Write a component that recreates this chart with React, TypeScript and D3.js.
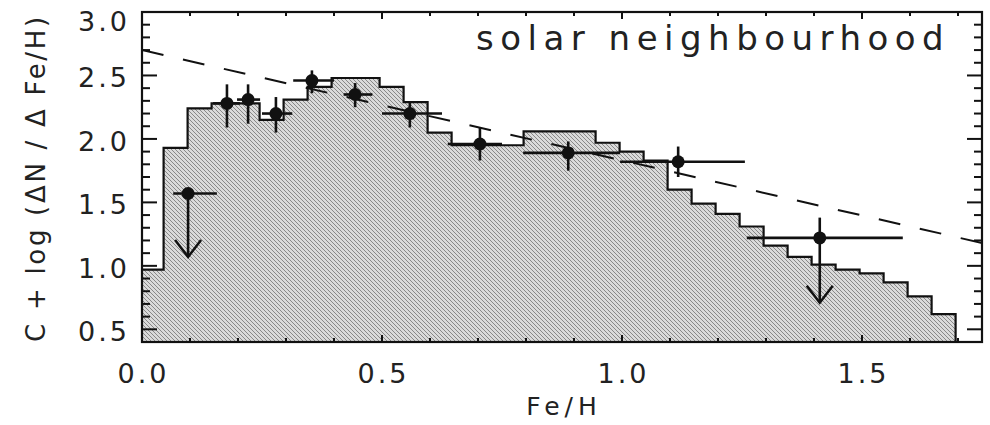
import React, { useEffect, useRef } from "react";
import * as d3 from "d3";

// histogram (model) bins
const binEdges = [
  0, 0.045, 0.095, 0.145, 0.195, 0.245, 0.295, 0.345, 0.395, 0.445, 0.495, 0.545,
  0.595, 0.645, 0.695, 0.745, 0.795, 0.845, 0.895, 0.945, 0.995, 1.045, 1.095,
  1.145, 1.195, 1.245, 1.295, 1.345, 1.395, 1.445, 1.495, 1.545, 1.595, 1.645,
  1.695, 1.75,
];
const binValues = [
  0.97, 1.93, 2.24, 2.28, 2.28, 2.15, 2.31, 2.41, 2.48, 2.48, 2.41, 2.29, 2.05,
  1.95, 1.95, 1.95, 2.06, 2.06, 2.06, 1.97, 1.9, 1.83, 1.6, 1.49, 1.41, 1.31,
  1.16, 1.07, 1.01, 0.97, 0.94, 0.87, 0.76, 0.62, 0.3,
];

// observed points with error bars
const obsX = [0.096, 0.177, 0.221, 0.279, 0.354, 0.444, 0.558, 0.704, 0.888, 1.117, 1.412];
const obsY = [1.57, 2.28, 2.31, 2.2, 2.46, 2.35, 2.2, 1.96, 1.89, 1.82, 1.22];
const obsXLo = [0.065, 0.148, 0.198, 0.25, 0.315, 0.42, 0.5, 0.637, 0.794, 0.996, 1.26];
const obsXHi = [0.156, 0.204, 0.246, 0.313, 0.4, 0.48, 0.625, 0.75, 0.996, 1.256, 1.585];
const obsYLo = [1.07, 2.09, 2.12, 2.05, 2.36, 2.25, 2.09, 1.83, 1.75, 1.7, 0.71];
const obsYHi = [1.6, 2.43, 2.43, 2.33, 2.54, 2.44, 2.29, 2.09, 1.98, 1.94, 1.38];
const upperLimit = [true, false, false, false, false, false, false, false, false, false, true];

// dashed reference line
const dashX = [0, 1.75];
const dashY = [2.7, 1.18];

const xTickLabels = ["0.0", "0.5", "1.0", "1.5"];
const yTickLabels = ["0.5", "1.0", "1.5", "2.0", "2.5", "3.0"];

const App: React.FC = () => {
  const svgRef = useRef<SVGSVGElement>(null);

  useEffect(() => {
    const svg = d3.select(svgRef.current);
    svg.selectAll("*").remove();

    const width = 990;
    const height = 425;
    const margin = { top: 12, right: 8, bottom: 83, left: 142 };
    const iw = width - margin.left - margin.right;
    const ih = height - margin.top - margin.bottom;

    const x = d3.scaleLinear().domain([0, 1.75]).range([0, iw]);
    const y = d3.scaleLinear().domain([0.4, 3.0]).range([ih, 0]);

    const defs = svg.append("defs");
    const pat = defs
      .append("pattern")
      .attr("id", "hatch")
      .attr("patternUnits", "userSpaceOnUse")
      .attr("width", 4)
      .attr("height", 4);
    pat.append("rect").attr("width", 4).attr("height", 4).attr("fill", "#dadada");
    pat
      .append("path")
      .attr("d", "M-1,3 l2,2 M0,0 l4,4 M3,-1 l2,2")
      .attr("stroke", "#888")
      .attr("stroke-width", 1);
    defs
      .append("clipPath")
      .attr("id", "plotClip")
      .append("rect")
      .attr("width", iw)
      .attr("height", ih);

    const g = svg.append("g").attr("transform", `translate(${margin.left},${margin.top})`);

    // histogram
    const steps: [number, number][] = [];
    binValues.forEach((v, i) => {
      steps.push([binEdges[i], v]);
      steps.push([binEdges[i + 1], v]);
    });
    const plot = g.append("g").attr("clip-path", "url(#plotClip)");
    plot
      .append("path")
      .datum(steps)
      .attr("fill", "url(#hatch)")
      .attr(
        "d",
        d3
          .area<[number, number]>()
          .x((d) => x(d[0]))
          .y0(ih)
          .y1((d) => y(d[1]))
      );
    plot
      .append("path")
      .datum(steps)
      .attr("fill", "none")
      .attr("stroke", "#111")
      .attr("stroke-width", 2.2)
      .attr(
        "d",
        d3
          .line<[number, number]>()
          .x((d) => x(d[0]))
          .y((d) => y(d[1]))
      );

    // dashed line
    plot
      .append("path")
      .datum(dashX.map((d, i) => [d, dashY[i]] as [number, number]))
      .attr("fill", "none")
      .attr("stroke", "#111")
      .attr("stroke-width", 2)
      .attr("stroke-dasharray", "22 20")
      .attr(
        "d",
        d3
          .line<[number, number]>()
          .x((d) => x(d[0]))
          .y((d) => y(d[1]))
      );

    // data points
    const pts = g.append("g");
    obsX.forEach((xv, i) => {
      const cx = x(xv);
      const cy = y(obsY[i]);
      pts
        .append("line")
        .attr("x1", x(obsXLo[i]))
        .attr("x2", x(obsXHi[i]))
        .attr("y1", cy)
        .attr("y2", cy)
        .attr("stroke", "#111")
        .attr("stroke-width", 2.6);
      pts
        .append("line")
        .attr("x1", cx)
        .attr("x2", cx)
        .attr("y1", y(obsYHi[i]))
        .attr("y2", y(obsYLo[i]))
        .attr("stroke", "#111")
        .attr("stroke-width", 2.6);
      if (upperLimit[i]) {
        const tip = y(obsYLo[i]);
        pts
          .append("path")
          .attr("d", `M${cx - 13},${tip - 17} L${cx},${tip} L${cx + 13},${tip - 17}`)
          .attr("fill", "none")
          .attr("stroke", "#111")
          .attr("stroke-width", 2.5);
      }
      pts.append("circle").attr("cx", cx).attr("cy", cy).attr("r", 6.5).attr("fill", "#111");
    });

    // frame
    g.append("rect")
      .attr("width", iw)
      .attr("height", ih)
      .attr("fill", "none")
      .attr("stroke", "#111")
      .attr("stroke-width", 2.2);

    const ticks = g.append("g").attr("stroke", "#111").attr("stroke-width", 2);
    const xMinor = x.ticks(17);
    const xMajor = xTickLabels.map((d) => +d);
    xMinor.forEach((t) => {
      const len = xMajor.some((m) => Math.abs(m - t) < 1e-6) ? 7 : 4;
      ticks.append("line").attr("x1", x(t)).attr("x2", x(t)).attr("y1", ih).attr("y2", ih - len);
      ticks.append("line").attr("x1", x(t)).attr("x2", x(t)).attr("y1", 0).attr("y2", len);
    });
    const yMinor = y.ticks(26);
    const yMajor = yTickLabels.map((d) => +d);
    yMinor.forEach((t) => {
      const len = yMajor.some((m) => Math.abs(m - t) < 1e-6) ? 15 : 8;
      ticks.append("line").attr("x1", 0).attr("x2", len).attr("y1", y(t)).attr("y2", y(t));
      ticks.append("line").attr("x1", iw).attr("x2", iw - len).attr("y1", y(t)).attr("y2", y(t));
    });

    const font = "'DejaVu Sans', sans-serif";
    const txt = "#222";

    g.append("g")
      .selectAll("text")
      .data(xTickLabels)
      .join("text")
      .attr("x", (d) => x(+d) + 1.5)
      .attr("y", ih + 41)
      .attr("text-anchor", "middle")
      .attr("font-family", font)
      .attr("font-size", 27)
      .attr("letter-spacing", 3)
      .attr("fill", txt)
      .text((d) => d);

    g.append("g")
      .selectAll("text")
      .data(yTickLabels)
      .join("text")
      .attr("x", -12)
      .attr("y", (d) => Math.max(y(+d) + 2, 9))
      .attr("dy", "0.36em")
      .attr("text-anchor", "end")
      .attr("font-family", font)
      .attr("font-size", 27)
      .attr("letter-spacing", 3)
      .attr("fill", txt)
      .text((d) => d);

    svg
      .append("text")
      .attr("x", margin.left + iw / 2 + 2)
      .attr("y", 415)
      .attr("text-anchor", "middle")
      .attr("font-family", font)
      .attr("font-size", 25)
      .attr("letter-spacing", 5)
      .attr("fill", txt)
      .text("Fe/H");

    svg
      .append("text")
      .attr("transform", `translate(45,${178}) rotate(-90)`)
      .attr("text-anchor", "middle")
      .attr("font-family", font)
      .attr("font-size", 26)
      .attr("letter-spacing", 2.7)
      .attr("fill", txt)
      .text("C + log (ΔN / Δ Fe/H)");

    svg
      .append("text")
      .attr("x", 476)
      .attr("y", 50)
      .attr("font-family", font)
      .attr("font-size", 34)
      .attr("letter-spacing", 6.5)
      .attr("fill", txt)
      .text("solar neighbourhood");

    return () => {
      svg.selectAll("*").remove();
    };
  }, []);

  return (
    <svg
      ref={svgRef}
      width="990"
      height="425"
      style={{ position: "absolute", left: 0, top: 0, background: "#fff" }}
    />
  );
};

export default App;
